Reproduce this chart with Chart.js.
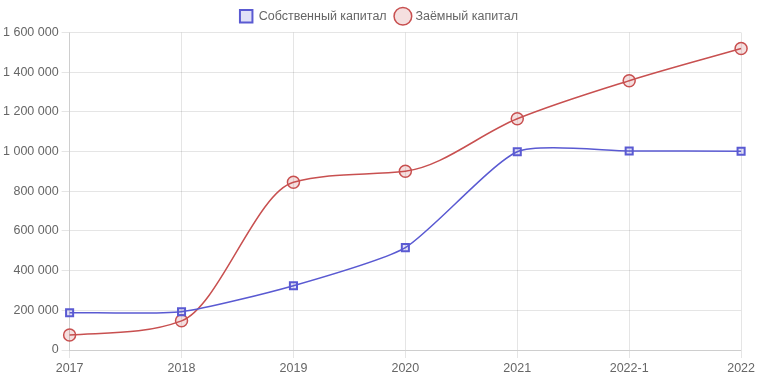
<!DOCTYPE html>
<html><head><meta charset="utf-8">
<script src="https://cdn.jsdelivr.net/npm/chart.js@4/dist/chart.umd.min.js"></script>
<style>html,body{margin:0;padding:0;background:#fff}#w{width:758px;height:379px}</style>
</head><body><div id="w"><canvas id="c"></canvas></div>
<script>
const categories = ['2017','2018','2019','2020','2021','2022-1','2022'];
const ownCapital = [188000, 193000, 324000, 516000, 999000, 1003000, 1002000];
const borrowedCapital = [76000, 147000, 845000, 901000, 1165000, 1357000, 1519000];
const seriesNames = ['Собственный капитал', 'Заёмный капитал'];

Chart.defaults.font.size = 12.5;
new Chart(document.getElementById('c'), {
  type: 'line',
  data: {
    labels: categories,
    datasets: [
      {label: seriesNames[0], data: ownCapital, borderColor: 'rgb(90,90,210)', backgroundColor: 'rgba(90,90,210,0.18)',
       pointStyle: 'rect', pointRadius: 5, pointBorderWidth: 2, borderWidth: 1.5, tension: 0.2},
      {label: seriesNames[1], data: borrowedCapital, borderColor: 'rgb(200,80,80)', backgroundColor: 'rgba(200,80,80,0.18)',
       pointStyle: 'circle', pointRadius: 6, pointBorderWidth: 1.5, borderWidth: 1.5, cubicInterpolationMode: 'monotone'}
    ]
  },
  options: {
    responsive: true, maintainAspectRatio: false, animation: false, locale: 'ru-RU',
    plugins: {legend: {labels: {usePointStyle: true, color: '#666'}}},
    scales: {
      x: {ticks: {color: '#666'}, grid: {color: 'rgba(0,0,0,0.1)'}},
      y: {min: 0, max: 1600000, ticks: {stepSize: 200000, color: '#666'}, grid: {color: 'rgba(0,0,0,0.1)'}}
    }
  }
});
</script></body></html>
